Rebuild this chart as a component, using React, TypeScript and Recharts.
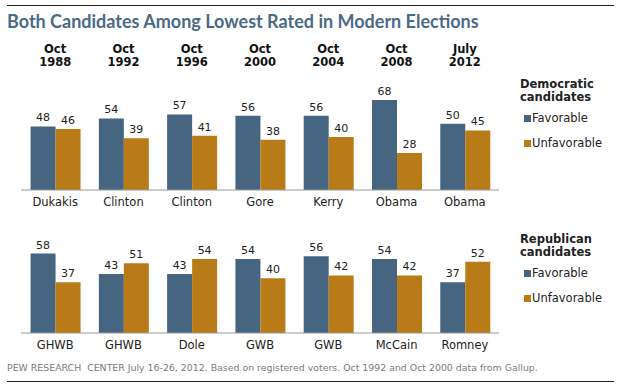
import React from "react"
import { BarChart, Bar, XAxis, YAxis, LabelList, Legend } from "recharts"

const periods = ["Oct 1988", "Oct 1992", "Oct 1996", "Oct 2000", "Oct 2004", "Oct 2008", "July 2012"]
const demNames = ["Dukakis", "Clinton", "Clinton", "Gore", "Kerry", "Obama", "Obama"]
const demFav = [48, 54, 57, 56, 56, 68, 50]
const demUnfav = [46, 39, 41, 38, 40, 28, 45]
const repNames = ["GHWB", "GHWB", "Dole", "GWB", "GWB", "McCain", "Romney"]
const repFav = [58, 43, 43, 54, 56, 54, 37]
const repUnfav = [37, 51, 54, 40, 42, 42, 52]

const FAV = "#456580"
const UNFAV = "#b97a18"
const FONT = "'DejaVu Sans', Verdana, sans-serif"

const demData = periods.map((p, i) => ({ period: p, name: demNames[i], fav: demFav[i], unfav: demUnfav[i] }))
const repData = periods.map((p, i) => ({ period: p, name: repNames[i], fav: repFav[i], unfav: repUnfav[i] }))

const HeaderTick = ({ x, payload }: any) => {
  const [a, b] = String(payload.value).split(" ")
  return (
    <text x={x} textAnchor="middle" fontFamily={FONT} fontSize={11.5} fontWeight="bold" fill="#111">
      <tspan x={x} y={49} dominantBaseline="central">{a}</tspan>
      <tspan x={x} y={62} dominantBaseline="central">{b}</tspan>
    </text>
  )
}

const makeLegend = (title: string[]) => () => (
  <div style={{ fontFamily: FONT, fontSize: 11.5, color: "#222", lineHeight: "13px" }}>
    <div style={{ fontWeight: "bold" }}>{title[0]}</div>
    <div style={{ fontWeight: "bold" }}>{title[1]}</div>
    {[
      { label: "Favorable", color: FAV },
      { label: "Unfavorable", color: UNFAV },
    ].map((it, i) => (
      <div key={it.label} style={{ display: "flex", alignItems: "center", marginTop: i === 0 ? 8 : 12 }}>
        <span style={{ display: "inline-block", width: 7, height: 7, background: it.color, marginLeft: 4, marginRight: 1 }} />
        <span>{it.label}</span>
      </div>
    ))}
  </div>
)

const Panel = ({ data, header, legendTitle, height, margin, legendTop }: any) => (
  <BarChart width={626} height={height} data={data} margin={margin} barCategoryGap="14%" barGap={0}>
    {header && (
      <XAxis xAxisId="hdr" orientation="top" dataKey="period" height={84} axisLine={false} tickLine={false} tick={<HeaderTick />} interval={0} />
    )}
    <XAxis
      dataKey="name"
      height={25}
      interval={0}
      tickLine={false}
      axisLine={{ stroke: "#999" }}
      tick={{ fill: "#222", fontSize: 11.5, fontFamily: FONT }}
    />
    <YAxis hide domain={[0, 80]} />
    <Legend
      layout="vertical"
      align="center"
      verticalAlign="middle"
      content={makeLegend(legendTitle)}
      wrapperStyle={{ left: 520, top: legendTop, width: 100 }}
    />
    <Bar dataKey="fav" name="Favorable" fill={FAV} isAnimationActive={false}>
      <LabelList dataKey="fav" position="top" fill="#222" fontSize={11} fontFamily={FONT} />
    </Bar>
    <Bar dataKey="unfav" name="Unfavorable" fill={UNFAV} isAnimationActive={false}>
      <LabelList dataKey="unfav" position="top" fill="#222" fontSize={11} fontFamily={FONT} />
    </Bar>
  </BarChart>
)

export default function App() {
  return (
    <div style={{ position: "absolute", left: 0, top: 0, width: 626, height: 387, background: "#fff", overflow: "hidden" }}>
      <div style={{ position: "absolute", left: 7, top: 5, width: 607, height: 1, background: "#222" }} />
      <div
        style={{
          position: "absolute",
          left: 7,
          top: 10,
          fontFamily: "Lato, sans-serif",
          fontWeight: "bold",
          fontSize: 18,
          lineHeight: "22px",
          color: "#4a6a87",
          whiteSpace: "nowrap",
        }}
      >
        Both Candidates Among Lowest Rated in Modern Elections
      </div>
      <div style={{ position: "absolute", left: 0, top: 0 }}>
        <Panel
          data={demData}
          header
          legendTitle={["Democratic", "candidates"]}
          height={215}
          margin={{ top: 0, right: 127, bottom: 0, left: 21 }}
          legendTop={77.5}
        />
      </div>
      <div style={{ position: "absolute", left: 0, top: 215 }}>
        <Panel
          data={repData}
          legendTitle={["Republican", "candidates"]}
          height={172}
          margin={{ top: 8.4, right: 127, bottom: 29, left: 21 }}
          legendTop={17.5}
        />
      </div>
      <div
        style={{
          position: "absolute",
          left: 7,
          top: 362,
          fontFamily: FONT,
          fontSize: 9.4,
          lineHeight: "12px",
          color: "#7a7a7a",
          whiteSpace: "pre",
        }}
      >
        PEW RESEARCH  CENTER July 16-26, 2012. Based on registered voters. Oct 1992 and Oct 2000 data from Gallup.
      </div>
      <div style={{ position: "absolute", left: 7, top: 381, width: 607, height: 1, background: "#222" }} />
    </div>
  )
}
